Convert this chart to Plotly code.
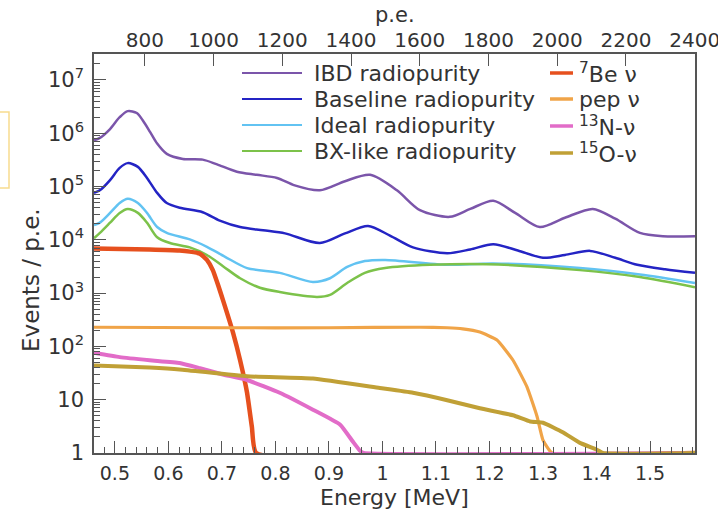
import plotly.graph_objects as go

# ---- spectra: energy [MeV] and events / p.e. ----
ibd_e = [0.461, 0.472, 0.491, 0.509, 0.524, 0.541, 0.552, 0.566, 0.579, 0.597, 0.627, 0.664, 0.691,
         0.728, 0.765, 0.803, 0.836, 0.883, 0.930, 0.977, 1.027, 1.070, 1.126, 1.164, 1.207,
         1.248, 1.294, 1.341, 1.393, 1.435, 1.481, 1.524, 1.584]
ibd_v = [7.4e5, 8.2e5, 1.2e6, 2.0e6, 2.6e6, 2.4e6, 1.75e6, 1.05e6, 6.4e5, 4.1e5, 3.3e5, 3.2e5, 2.6e5,
         1.9e5, 1.66e5, 1.45e5, 1.05e5, 8.5e4, 1.26e5, 1.66e5, 8.5e4, 3.6e4, 2.7e4, 3.8e4, 5.4e4,
         3.2e4, 1.74e4, 2.6e4, 3.8e4, 2.5e4, 1.35e4, 1.17e4, 1.17e4]

base_e = [0.461, 0.472, 0.491, 0.509, 0.524, 0.543, 0.560, 0.579, 0.597, 0.621, 0.664, 0.696,
          0.734, 0.777, 0.818, 0.883, 0.930, 0.973, 1.014, 1.057, 1.121, 1.164, 1.207, 1.253,
          1.300, 1.341, 1.388, 1.435, 1.476, 1.528, 1.584]
base_v = [7.6e4, 8.5e4, 1.32e5, 2.24e5, 2.75e5, 2.34e5, 1.45e5, 7.6e4, 4.9e4, 4.0e4, 3.3e4, 2.3e4,
          1.74e4, 1.51e4, 1.32e4, 8.7e3, 1.32e4, 1.82e4, 1.2e4, 7.2e3, 5.6e3, 6.6e3, 8.3e3, 6.3e3,
          4.6e3, 5.2e3, 6.2e3, 4.6e3, 3.4e3, 2.8e3, 2.4e3]

ideal_e = [0.461, 0.472, 0.491, 0.509, 0.524, 0.543, 0.560, 0.579, 0.597, 0.640, 0.672, 0.706,
           0.747, 0.808, 0.870, 0.902, 0.934, 0.967, 1.005, 1.121, 1.207, 1.369, 1.481, 1.584]
ideal_v = [1.9e4, 2.1e4, 3.2e4, 4.9e4, 5.9e4, 4.9e4, 3.2e4, 1.74e4, 1.35e4, 1.02e4, 7.4e3, 4.8e3,
           2.95e3, 2.4e3, 1.62e3, 1.9e3, 3.1e3, 4.0e3, 4.2e3, 3.4e3, 3.6e3, 2.95e3, 2.24e3, 1.55e3]

bx_e = [0.461, 0.472, 0.491, 0.509, 0.524, 0.543, 0.560, 0.579, 0.603, 0.640, 0.672, 0.702,
        0.734, 0.771, 0.808, 0.878, 0.902, 0.934, 0.967, 1.005, 1.089, 1.195, 1.369, 1.481, 1.584]
bx_v = [1.07e4, 1.35e4, 2.1e4, 3.2e4, 3.8e4, 3.2e4, 2.1e4, 1.12e4, 8.7e3, 7.2e3, 5.2e3, 3.2e3,
        1.9e3, 1.26e3, 1.05e3, 850, 930, 1.55e3, 2.4e3, 2.95e3, 3.4e3, 3.5e3, 2.7e3, 2.0e3, 1.29e3]

be7_e = [0.461, 0.565, 0.621, 0.640, 0.659, 0.672, 0.683, 0.693, 0.702, 0.721, 0.734, 0.747,
         0.756, 0.764, 1.584]
be7_v = [6.9e3, 6.6e3, 6.3e3, 6.0e3, 5.5e3, 4.2e3, 2.7e3, 1.4e3, 740, 178, 55, 13.5, 3.1, 1, 1]

pep_e = [0.461, 0.700, 0.900, 1.070, 1.121, 1.150, 1.182, 1.214, 1.244, 1.270, 1.289, 1.300,
         1.317, 1.584]
pep_v = [229, 224, 224, 229, 224, 214, 186, 132, 55, 17.4, 4.8, 1.74, 1, 1]

n13_e = [0.461, 0.509, 0.565, 0.621, 0.659, 0.700, 0.747, 0.808, 0.870, 0.921, 0.945, 0.958,
         0.965, 1.584]
n13_v = [76, 63, 55, 49, 39, 30, 23.4, 13.5, 6.5, 3.4, 1.62, 1.1, 1, 1]

o15_e = [0.461, 0.565, 0.621, 0.747, 0.870, 0.995, 1.057, 1.121, 1.182, 1.244, 1.276, 1.300,
         1.337, 1.369, 1.401, 1.412, 1.584]
o15_v = [44, 40, 37, 27.5, 25, 16.6, 13.5, 9.8, 6.9, 5.1, 3.9, 3.7, 2.45, 1.55, 1.15, 1, 1]

# ---- axis ticks ----
energy_ticks = [0.5, 0.6, 0.7, 0.8, 0.9, 1.0, 1.1, 1.2, 1.3, 1.4, 1.5]
energy_labels = ["0.5", "0.6", "0.7", "0.8", "0.9", "1", "1.1", "1.2", "1.3", "1.4", "1.5"]
pe_ticks = [800, 1000, 1200, 1400, 1600, 1800, 2000, 2200, 2400]
y_ticks = [1, 10, 1e2, 1e3, 1e4, 1e5, 1e6, 1e7]
y_labels = ["1", "10", "10<sup>2</sup>", "10<sup>3</sup>", "10<sup>4</sup>",
            "10<sup>5</sup>", "10<sup>6</sup>", "10<sup>7</sup>"]

# name, x, y, colour, width, smoothing
series = [
    ("IBD radiopurity", ibd_e, ibd_v, "#7b55aa", 2.5, 0.8),
    ("Baseline radiopurity", base_e, base_v, "#2424c4", 2.5, 0.8),
    ("Ideal radiopurity", ideal_e, ideal_v, "#62c3f2", 2.5, 0.8),
    ("BX-like radiopurity", bx_e, bx_v, "#7cc24a", 2.5, 0.8),
    ("<sup>7</sup>Be ν", be7_e, be7_v, "#e6501e", 4.5, 0.4),
    ("pep ν", pep_e, pep_v, "#f0a448", 3.2, 0.4),
    ("<sup>13</sup>N-ν", n13_e, n13_v, "#e26cc8", 4, 0.4),
    ("<sup>15</sup>O-ν", o15_e, o15_v, "#c0a036", 4, 0.4),
]

FONT = "DejaVu Sans"
AX = "#555555"
TXT = "#333333"

fig = go.Figure()
for name, e, v, col, w, sm in series:
    fig.add_trace(go.Scatter(x=e, y=v, mode="lines", name=name,
                             line=dict(color=col, width=w, shape="spline", smoothing=sm),
                             showlegend=False))

# empty trace binding the photo-electron scale on top
fig.add_trace(go.Scatter(x=pe_ticks, y=[None] * len(pe_ticks), xaxis="x2", yaxis="y",
                         mode="lines", showlegend=False, hoverinfo="skip"))

# plot area in pixels
L, R, T, B = 94, 695, 54, 453
W, H = 718, 514
pw, ph = R - L, B - T

def px(xp):
    return (xp - L) / pw

def py(yp):
    return (B - yp) / ph

# legend drawn as two columns of samples + labels
shapes = []
annotations = []
col1 = series[:4]
col2 = series[4:]
rows1 = [73, 99, 125, 151]
rows2 = [73, 99, 126, 153]
for (name, _, _, col, _, _), r in zip(col1, rows1):
    shapes.append(dict(type="line", xref="paper", yref="paper", x0=px(242), x1=px(302),
                       y0=py(r), y1=py(r), line=dict(color=col, width=2.2)))
    annotations.append(dict(text=name, xref="paper", yref="paper", x=px(312), y=py(r),
                            xanchor="left", yanchor="middle", showarrow=False,
                            font=dict(family=FONT, size=22, color=TXT)))
for (name, _, _, col, _, _), r in zip(col2, rows2):
    shapes.append(dict(type="line", xref="paper", yref="paper", x0=px(550), x1=px(573),
                       y0=py(r), y1=py(r), line=dict(color=col, width=3.5)))
    annotations.append(dict(text=name, xref="paper", yref="paper", x=px(577), y=py(r),
                            xanchor="left", yanchor="middle", showarrow=False,
                            font=dict(family=FONT, size=22, color=TXT)))

# axis titles
annotations.append(dict(text="Energy [MeV]", xref="paper", yref="paper", x=0.5, y=py(497),
                        xanchor="center", yanchor="middle", showarrow=False,
                        font=dict(family=FONT, size=22, color=TXT)))
annotations.append(dict(text="p.e.", xref="paper", yref="paper", x=0.5, y=py(15),
                        xanchor="center", yanchor="middle", showarrow=False,
                        font=dict(family=FONT, size=21, color=TXT)))
annotations.append(dict(text="Events / p.e.", xref="paper", yref="paper", x=px(31), y=py(280),
                        xanchor="center", yanchor="middle", showarrow=False, textangle=-90,
                        font=dict(family=FONT, size=23, color=TXT)))

# small highlight box at the left edge
shapes.append(dict(type="rect", xref="paper", yref="paper", x0=px(-3), x1=px(9),
                   y0=py(188), y1=py(112), line=dict(color="#f7dc8e", width=1.5)))

fig.update_layout(
    width=W, height=H,
    margin=dict(l=L, r=W - R, t=T, b=H - B, pad=0, autoexpand=False),
    paper_bgcolor="white", plot_bgcolor="white",
    font=dict(family=FONT, size=20, color=TXT),
    shapes=shapes, annotations=annotations,
    xaxis=dict(range=[0.461, 1.584], tickvals=energy_ticks, ticktext=energy_labels,
               ticks="inside", ticklen=12, tickwidth=1.2, tickcolor=AX, ticklabelstandoff=2,
               minor=dict(ticks="inside", ticklen=6, tickwidth=1.2, tickcolor=AX, dtick=0.02,
                          tick0=0.5, showgrid=False),
               showline=True, linecolor=AX, linewidth=1.5, mirror=True,
               showgrid=False, zeroline=False, automargin=False,
               tickfont=dict(family=FONT, size=19, color=TXT)),
    xaxis2=dict(range=[652, 2401], overlaying="x", side="top", anchor="y",
                tickvals=pe_ticks, ticks="inside", ticklen=12, tickwidth=1.2, tickcolor=AX,
                showline=False, showgrid=False, zeroline=False, ticklabelstandoff=2,
                ticklabeloverflow="allow", automargin=False,
                tickfont=dict(family=FONT, size=20, color=TXT)),
    yaxis=dict(type="log", range=[0, 7.487], tickvals=y_ticks, ticktext=y_labels,
               ticks="inside", ticklen=12, tickwidth=1.2, tickcolor=AX, ticklabelstandoff=4,
               minor=dict(ticks="inside", ticklen=6, tickwidth=1.2, tickcolor=AX, dtick="D1",
                          showgrid=False),
               showline=True, linecolor=AX, linewidth=1.5, mirror=True,
               showgrid=False, zeroline=False, automargin=False,
               tickfont=dict(family=FONT, size=21, color=TXT)),
)

fig.write_html("out.html")
